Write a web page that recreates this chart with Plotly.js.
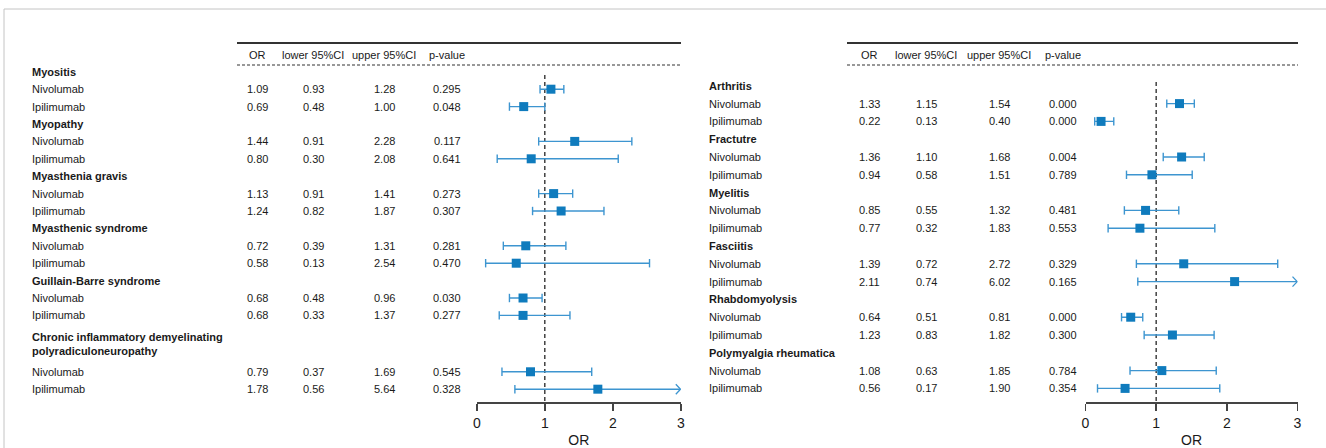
<!DOCTYPE html>
<html>
<head>
<meta charset="utf-8">
<script src="https://cdn.plot.ly/plotly-3.0.1.min.js"></script>
<style>html,body{margin:0;padding:0;background:#fff;}#chart{width:1326px;height:448px;}</style>
</head>
<body>
<div id="chart"></div>
<script>
// ---------------- data ----------------
const drugs = ['Nivolumab', 'Ipilimumab'];
const headers = ['OR', 'lower 95%CI', 'upper 95%CI', 'p-value'];

const leftGroups = ['Myositis', 'Myopathy', 'Myasthenia gravis', 'Myasthenic syndrome',
  'Guillain-Barre syndrome', 'Chronic inflammatory demyelinating polyradiculoneuropathy'];
const leftOR    = [1.09, 0.69, 1.44, 0.80, 1.13, 1.24, 0.72, 0.58, 0.68, 0.68, 0.79, 1.78];
const leftLower = [0.93, 0.48, 0.91, 0.30, 0.91, 0.82, 0.39, 0.13, 0.48, 0.33, 0.37, 0.56];
const leftUpper = [1.28, 1.00, 2.28, 2.08, 1.41, 1.87, 1.31, 2.54, 0.96, 1.37, 1.69, 5.64];
const leftP     = ['0.295', '0.048', '0.117', '0.641', '0.273', '0.307', '0.281', '0.470', '0.030', '0.277', '0.545', '0.328'];

const rightGroups = ['Arthritis', 'Fractutre', 'Myelitis', 'Fasciitis', 'Rhabdomyolysis', 'Polymyalgia rheumatica'];
const rightOR    = [1.33, 0.22, 1.36, 0.94, 0.85, 0.77, 1.39, 2.11, 0.64, 1.23, 1.08, 0.56];
const rightLower = [1.15, 0.13, 1.10, 0.58, 0.55, 0.32, 0.72, 0.74, 0.51, 0.83, 0.63, 0.17];
const rightUpper = [1.54, 0.40, 1.68, 1.51, 1.32, 1.83, 2.72, 6.02, 0.81, 1.82, 1.85, 1.90];
const rightP     = ['0.000', '0.000', '0.004', '0.789', '0.481', '0.553', '0.329', '0.165', '0.000', '0.300', '0.784', '0.354'];

const xTicks = [0, 1, 2, 3];

// ---------------- layout constants ----------------
const W = 1326, H = 448;
const AXIS_Y = 402;
const XMAX = 3;
const FONT = 'Liberation Sans, Arial, Helvetica, sans-serif';
const TXT = '#1a1a1a';
const CI_COLOR = '#3d95d0';
const MK_COLOR = '#0f7bbd';

const panels = [
  {groups: leftGroups, or: leftOR, lo: leftLower, hi: leftUpper, p: leftP,
   xa: 'x', xaName: 'xaxis', axL: 476.8, axR: 680.8, labelX: 30, cols: [257, 313, 384, 447],
   lineL: 237, lineR: 681, y0: 71.8, step: 17.4, vTop: 75},
  {groups: rightGroups, or: rightOR, lo: rightLower, hi: rightUpper, p: rightP,
   xa: 'x2', xaName: 'xaxis2', axL: 1085.5, axR: 1297.5, labelX: 707, cols: [869, 926, 999, 1063],
   lineL: 847, lineR: 1298, y0: 85.8, step: 17.8, vTop: 82}
];

const traces = [];
const annotations = [];
const shapes = [];
const layout = {
  width: W, height: H,
  margin: {l: 0, r: 0, t: 0, b: 0},
  paper_bgcolor: '#fff', plot_bgcolor: 'rgba(0,0,0,0)',
  showlegend: false,
  font: {family: FONT, color: TXT, size: 11},
  yaxis: {domain: [(H - AXIS_Y) / H, 1], range: [AXIS_Y, 0], visible: false, fixedrange: true},
  annotations: annotations, shapes: shapes
};

// frame
shapes.push({type: 'line', xref: 'paper', yref: 'paper', x0: 4 / W, x1: 1, y0: 1 - 9 / H, y1: 1 - 9 / H,
  line: {color: '#c4c4c4', width: 1}});
shapes.push({type: 'line', xref: 'paper', yref: 'paper', x0: 4 / W, x1: 4 / W, y0: 1 - 9 / H, y1: 0,
  line: {color: '#c4c4c4', width: 1}});

function ann(xpx, y, text, opts) {
  annotations.push(Object.assign({
    xref: 'paper', yref: 'y', x: xpx / W, y: y, text: text, showarrow: false,
    xanchor: 'center', yanchor: 'middle', font: {family: FONT, size: 11, color: TXT}
  }, opts || {}));
}

panels.forEach(P => {
  // x axis
  layout[P.xaName] = {
    domain: [P.axL / W, P.axR / W], range: [0, XMAX], anchor: 'y',
    showline: true, linecolor: '#444', linewidth: 2, mirror: false,
    ticks: 'outside', ticklen: 7, tickwidth: 1.5, tickcolor: '#444',
    tickvals: xTicks, ticktext: xTicks.map(String),
    tickfont: {family: FONT, size: 14, color: TXT},
    showgrid: false, zeroline: false, fixedrange: true,
    title: {text: 'OR', font: {family: FONT, size: 14, color: TXT}, standoff: 6}
  };

  // header lines
  const yTop = 43, yDash = 65, yHead = 55;
  shapes.push({type: 'line', xref: 'paper', yref: 'y', x0: P.lineL / W, x1: P.lineR / W, y0: yTop, y1: yTop,
    line: {color: '#333', width: 2}});
  shapes.push({type: 'line', xref: 'paper', yref: 'y', x0: P.lineL / W, x1: P.lineR / W, y0: yDash, y1: yDash,
    line: {color: '#333', width: 1.2, dash: '3px,2px'}});
  headers.forEach((h, i) => ann(P.cols[i], yHead, h));

  // rows
  const rowY = [];
  let pos = -1;
  P.groups.forEach((g, gi) => {
    const twoLine = g.length > 30;
    pos += 1 + (twoLine ? 0.63 : 0);
    let label = g;
    if (twoLine) {
      const cut = g.lastIndexOf(' ');
      label = g.slice(0, cut) + '<br>' + g.slice(cut + 1);
    }
    const gy = P.y0 + P.step * pos;
    ann(P.labelX, gy, '<b>' + label + '</b>', {xanchor: 'left', align: 'left'});
    pos += twoLine ? 0.61 : 0;
    drugs.forEach((d, di) => {
      pos += 1;
      const y = P.y0 + P.step * pos;
      const k = gi * drugs.length + di;
      rowY[k] = y;
      ann(P.labelX, y, d, {xanchor: 'left', align: 'left'});
      ann(P.cols[0], y, P.or[k].toFixed(2));
      ann(P.cols[1], y, P.lo[k].toFixed(2));
      ann(P.cols[2], y, P.hi[k].toFixed(2));
      ann(P.cols[3], y, P.p[k]);
    });
  });

  // reference line at OR = 1
  shapes.push({type: 'line', xref: P.xa, yref: 'y', x0: 1, x1: 1, y0: P.vTop, y1: AXIS_Y,
    line: {color: '#333', width: 1.4, dash: '4px,3px'}, layer: 'below'});

  // CI lines, caps, arrows
  const pxPerUnit = (P.axR - P.axL) / XMAX;
  const lx = [], ly = [], cx = [], cy = [], ax = [], ay = [];
  P.or.forEach((v, k) => {
    const y = rowY[k];
    const hiC = Math.min(P.hi[k], XMAX);
    lx.push(P.lo[k], hiC, null); ly.push(y, y, null);
    cx.push(P.lo[k]); cy.push(y);
    if (P.hi[k] <= XMAX) { cx.push(P.hi[k]); cy.push(y); }
    else {
      const dx = 5 / pxPerUnit;
      ax.push(XMAX - dx, XMAX - 0.004, XMAX - dx, null);
      ay.push(y - 5, y, y + 5, null);
    }
  });
  traces.push({type: 'scatter', mode: 'lines', x: lx, y: ly, xaxis: P.xa, yaxis: 'y',
    line: {color: CI_COLOR, width: 1.4}, hoverinfo: 'skip'});
  traces.push({type: 'scatter', mode: 'lines', x: ax, y: ay, xaxis: P.xa, yaxis: 'y',
    line: {color: CI_COLOR, width: 1.3}, hoverinfo: 'skip'});
  traces.push({type: 'scatter', mode: 'markers', x: cx, y: cy, xaxis: P.xa, yaxis: 'y', cliponaxis: false,
    marker: {symbol: 'line-ns', size: 6, line: {color: CI_COLOR, width: 1.4}}, hoverinfo: 'skip'});
  traces.push({type: 'scatter', mode: 'markers', x: P.or, y: rowY, xaxis: P.xa, yaxis: 'y', cliponaxis: false,
    marker: {symbol: 'square', size: 9, color: MK_COLOR, line: {width: 0}}, hoverinfo: 'skip'});
});

Plotly.newPlot('chart', traces, layout, {displayModeBar: false, staticPlot: true});
</script>
</body>
</html>
